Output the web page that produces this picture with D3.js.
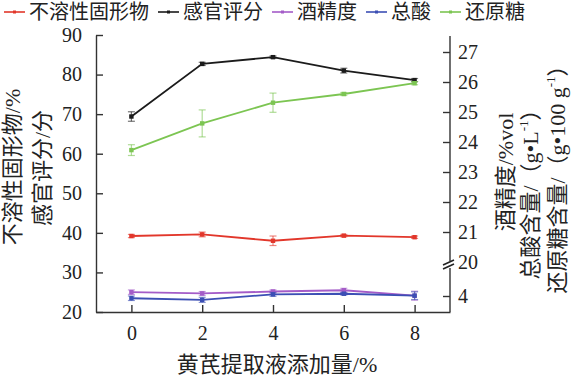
<!DOCTYPE html>
<html><head><meta charset="utf-8">
<script src="https://cdn.jsdelivr.net/npm/d3@7"></script>
<style>
body{margin:0;background:#fff;}
svg{display:block;}
text{font-family:"Liberation Serif","Times New Roman","DejaVu Serif","Noto Sans CJK SC",serif;fill:#222;}
</style></head><body>
<svg id="c" width="573" height="379"></svg>
<script>
const xValues = [0, 2, 4, 6, 8];
const insoluble = [39.2, 39.6, 38.0, 39.3, 38.9];
const insolubleErr = [0.4, 0.6, 1.2, 0.3, 0.3];
const sensory = [69.4, 82.7, 84.4, 81.0, 78.6];
const sensoryErr = [1.2, 0.4, 0.3, 0.6, 0.4];
const alcohol = [4.12, 4.08, 4.14, 4.18, 4.01];
const alcoholErr = [0.07, 0.06, 0.05, 0.06, 0.14];
const acid = [3.93, 3.88, 4.05, 4.07, 4.01];
const acidErr = [0.07, 0.08, 0.06, 0.04, 0.12];
const sugar = [23.73, 24.62, 25.31, 25.60, 25.96];
const sugarErr = [0.18, 0.45, 0.32, 0.05, 0.05];
const legendNames = ["不溶性固形物", "感官评分", "酒精度", "总酸", "还原糖"];
const leftTicks = [20, 30, 40, 50, 60, 70, 80, 90];
const rightUpperTicks = [20, 21, 22, 23, 24, 25, 26, 27];
const rightLowerTicks = [4];
const xTicks = [0, 2, 4, 6, 8];

const svg = d3.select("#c");
const x = d3.scaleLinear().domain([-1, 9]).range([96, 450]);
const yL = d3.scaleLinear().domain([20, 90]).range([312, 35]);
const yRU = d3.scaleLinear().domain([20, 27]).range([262, 52]);
const yRL = d3.scaleLinear().domain([3.5, 4]).range([312, 296]);
const fmt = d3.format("d");
const serif = '"Liberation Serif","Times New Roman","DejaVu Serif",serif';

const axisColor = "#333";
function styleAxis(g){
  g.attr("font-family", null);
  g.selectAll("path,line").attr("stroke", axisColor).attr("stroke-width", 1.4);
  g.selectAll("text").attr("font-size", 20).style("font-family", serif).attr("fill","#222");
}

svg.append("g").attr("transform","translate(0,312)")
  .call(d3.axisBottom(x).tickValues(xTicks).tickFormat(fmt).tickSizeInner(-7).tickSizeOuter(0).tickPadding(14))
  .call(styleAxis);
svg.append("g").attr("transform","translate(96,0)")
  .call(d3.axisLeft(yL).tickValues(leftTicks).tickFormat(fmt).tickSizeInner(-7).tickSizeOuter(0).tickPadding(14))
  .call(styleAxis);
const rU = svg.append("g").attr("transform","translate(450,0)")
  .call(d3.axisRight(yRU).tickValues(rightUpperTicks).tickFormat(fmt).tickSizeInner(-7).tickSizeOuter(0).tickPadding(8))
  .call(styleAxis);
rU.select(".domain").remove();
rU.selectAll(".tick").filter(d => d === 20).select("line").remove();
const rL = svg.append("g").attr("transform","translate(450,0)")
  .call(d3.axisRight(yRL).tickValues(rightLowerTicks).tickFormat(fmt).tickSizeInner(-7).tickSizeOuter(0).tickPadding(8))
  .call(styleAxis);
rL.select(".domain").remove();
const breakY = yRU(20) + 2;
svg.append("line").attr("x1",450).attr("x2",450).attr("y1",36).attr("y2",breakY-3)
  .attr("stroke",axisColor).attr("stroke-width",1.4);
svg.append("line").attr("x1",450).attr("x2",450).attr("y1",breakY+4).attr("y2",312)
  .attr("stroke",axisColor).attr("stroke-width",1.4);
[-2, 2].forEach(o=>{
  svg.append("line").attr("x1",443).attr("y1",breakY+o+3).attr("x2",454).attr("y2",breakY+o-2)
    .attr("stroke","#222").attr("stroke-width",1.6);
});

const series = [
  {name:legendNames[0], vals:insoluble, err:insolubleErr, y:yL, color:"#e2372b"},
  {name:legendNames[1], vals:sensory, err:sensoryErr, y:yL, color:"#1b1b1b"},
  {name:legendNames[2], vals:alcohol, err:alcoholErr, y:yRL, color:"#a45cc8"},
  {name:legendNames[3], vals:acid, err:acidErr, y:yRL, color:"#3c4fb4"},
  {name:legendNames[4], vals:sugar, err:sugarErr, y:yRU, color:"#7cc552"}
];

series.forEach(s=>{
  const pts = xValues.map((xv,i)=>({x:xv, v:s.vals[i], e:s.err[i]}));
  const g = svg.append("g");
  const eg = g.append("g").attr("stroke", s.color).attr("stroke-opacity",0.6).attr("stroke-width",1.2);
  pts.forEach(p=>{
    const cx = x(p.x), y1 = s.y(p.v - p.e), y2 = s.y(p.v + p.e);
    eg.append("line").attr("x1",cx).attr("x2",cx).attr("y1",y1).attr("y2",y2);
    eg.append("line").attr("x1",cx-3.5).attr("x2",cx+3.5).attr("y1",y1).attr("y2",y1);
    eg.append("line").attr("x1",cx-3.5).attr("x2",cx+3.5).attr("y1",y2).attr("y2",y2);
  });
  g.append("path").datum(pts)
    .attr("d", d3.line().x(d=>x(d.x)).y(d=>s.y(d.v)))
    .attr("fill","none").attr("stroke",s.color).attr("stroke-width",1.8);
  g.selectAll("rect").data(pts).join("rect")
    .attr("x",d=>x(d.x)-2.2).attr("y",d=>s.y(d.v)-2.2).attr("width",4.4).attr("height",4.4)
    .attr("fill",s.color);
});

let lx = 4;
series.forEach(s=>{
  const g = svg.append("g");
  g.append("line").attr("x1",lx).attr("x2",lx+21).attr("y1",12).attr("y2",12)
    .attr("stroke",s.color).attr("stroke-width",1.6);
  g.append("rect").attr("x",lx+9).attr("y",10.5).attr("width",3).attr("height",3).attr("fill",s.color);
  const t = g.append("text").attr("x",lx+25).attr("y",12).attr("dominant-baseline","central")
    .attr("font-size",20).text(s.name);
  lx += 25 + t.node().getComputedTextLength() + 9;
});

svg.append("text").attr("x",277).attr("y",364).attr("text-anchor","middle")
  .attr("dominant-baseline","central").attr("font-size",22).text("黄芪提取液添加量/%");

function vtext(cx, cy, size){
  return svg.append("text").attr("transform",`translate(${cx},${cy}) rotate(-90)`)
    .attr("text-anchor","middle").attr("dominant-baseline","central").attr("font-size",size);
}
vtext(12,167,22).text("不溶性固形物/%");
vtext(42,168,22).text("感官评分/分");

vtext(505,172,22).text("酒精度/%vol");
const t2 = vtext(530,189,22);
t2.append("tspan").text("总酸含量/（g•L");
t2.append("tspan").attr("font-size",13).attr("dy",-7).text("-1");
t2.append("tspan").attr("dy",7).text("）");
const t3 = vtext(557,174,22);
t3.append("tspan").text("还原糖含量/（g•100 g");
t3.append("tspan").attr("font-size",13).attr("dy",-7).text("-1");
t3.append("tspan").attr("dy",7).text("）");
</script>
</body></html>
